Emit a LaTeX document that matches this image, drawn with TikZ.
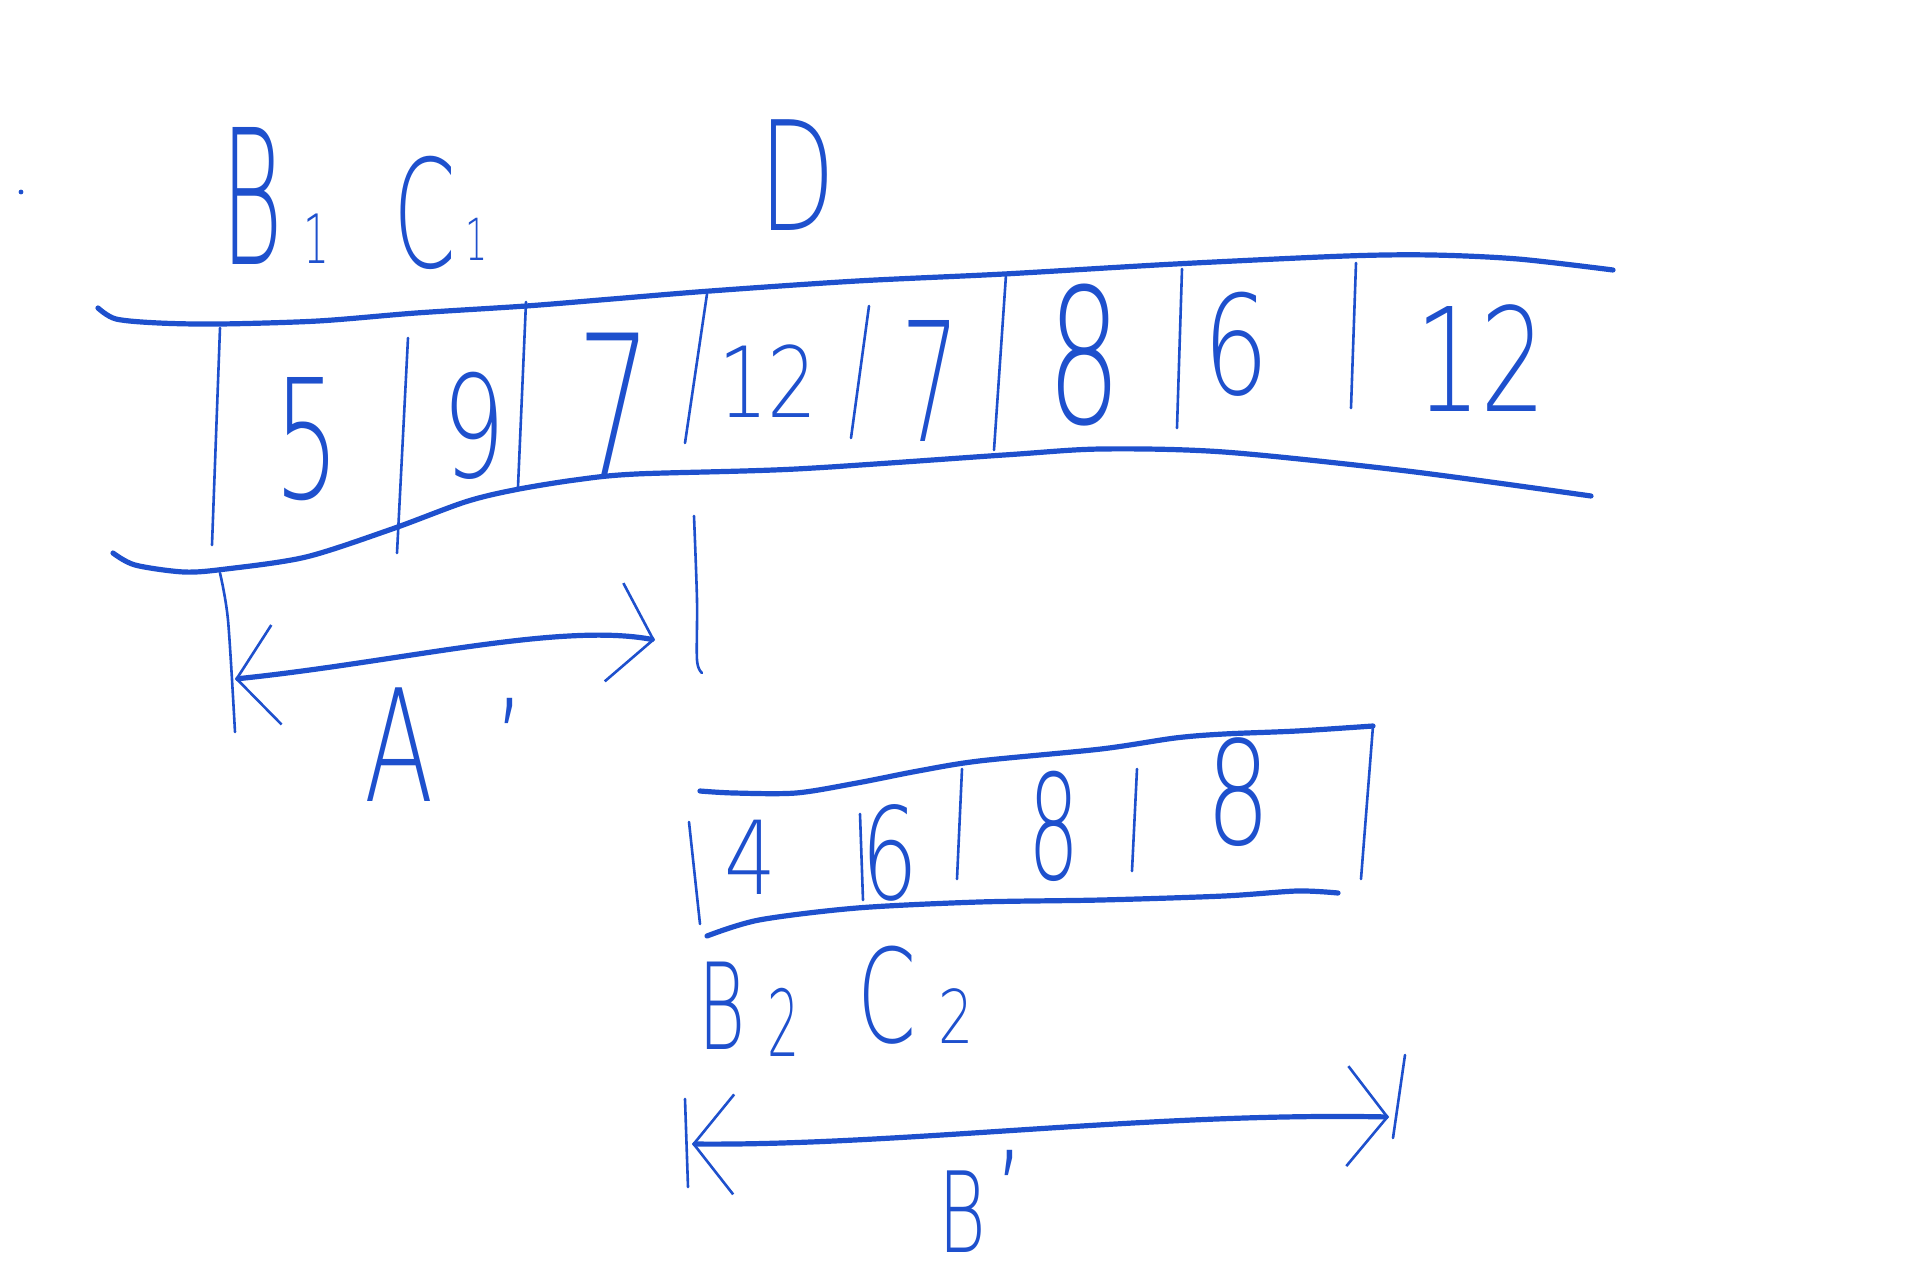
\documentclass[tikz,border=0pt]{standalone}
\usepackage{fontspec}
\IfFontExistsTF{DejaVu Sans ExtraLight}{\setmainfont{DejaVu Sans ExtraLight}}{\setmainfont{DejaVu Sans}}
\usetikzlibrary{arrows.meta}
\definecolor{ink}{RGB}{30,80,205}
\newcommand{\nar}[2]{\scalebox{#1}[1]{#2}}
\tikzset{
  rim/.style={draw=ink, line width=2.6pt, line cap=round, line join=round},
  wall/.style={draw=ink, line width=1.3pt, line cap=round, line join=round},
  glyph/.style={text=ink, inner sep=0pt, font=\fontsize{#1}{#1}\selectfont},
  span/.style={draw=ink, line width=2.6pt, line cap=round,
    {Straight Barb[length=20pt,width=50pt,line width=1.3pt]}-{Straight Barb[length=20pt,width=50pt,line width=1.3pt]}}
}
\begin{document}
\begin{tikzpicture}[x=0.5pt,y=-0.5pt]
\fill[white] (0,0) rectangle (1919,1280);
\useasboundingbox (0,0) rectangle (1919,1280);

% stray dot
\fill[ink] (21,192) circle (1.2pt);

% ---------- top array ----------
\draw[rim] plot[smooth] coordinates {(98,308) (116,319) (159,323) (220,324) (318,321) (416,313) (526,306) (612,299) (710,291) (857,281) (1004,274) (1175,264) (1346,256) (1432,255) (1518,259) (1613,270)};
\draw[rim] plot[smooth] coordinates {(113,553) (135,565) (184,572) (226,569) (306,557) (392,529) (465,502) (514,490) (575,480) (636,474) (796,469) (1004,455) (1101,449) (1224,452) (1407,471) (1591,496)};
\draw[wall] (220,328) -- (212,545);
\draw[wall] (408,338) -- (397,553);
\draw[wall] (526,302) -- (518,487);
\draw[wall] (707,294) -- (685,443);
\draw[wall] (869,306) -- (851,438);
\draw[wall] (1006,275) -- (994,450);
\draw[wall] (1182,269) -- (1177,428);
\draw[wall] (1356,263) -- (1351,408);

\node[glyph=83] (t5) at (307,439) {\nar{0.62}{5}};
\node[glyph=71] (t9) at (474,426) {\nar{0.7}{9}};
\node[glyph=97] (t7a) at (615,404) {\nar{0.6}{7}};
\node[glyph=49] (t12a) at (768,381) {\nar{0.8}{12}};
\node[glyph=83] (t7b) at (931,381) {\nar{0.55}{7}};
\node[glyph=94] (t8) at (1085,355) {\nar{0.62}{8}};
\node[glyph=69] (t6) at (1236,344) {\nar{0.75}{6}};
\node[glyph=72] (t12b) at (1481,358) {\nar{0.72}{12}};

% labels above
\node[glyph=94] (lB1) at (252,196) {\nar{0.5}{B}};
\node[glyph=34] (lB1s) at (316,239) {\nar{0.6}{1}};
\node[glyph=75] (lC1) at (425,213) {\nar{0.6}{C}};
\node[glyph=29] (lC1s) at (477,239) {\nar{0.6}{1}};
\node[glyph=76] (lD) at (798,175) {\nar{0.65}{D}};

% ---------- span A' ----------
\draw[wall] plot[smooth] coordinates {(220,573) (228,620) (235,732)};
\draw[wall] plot[smooth] coordinates {(694,516) (697,600) (697,660) (702,673)};
\coordinate (aL) at (235,679);
\coordinate (aR) at (655,640);
\draw[span] (aL) .. controls (400,662) and (560,622) .. (aR);
\node[glyph=78] (lA) at (399,745) {\nar{0.65}{A}};
\node[glyph=55] (lAp) at (510,738) {'};

% ---------- bottom array ----------
\draw[rim] plot[smooth] coordinates {(700,791) (734,793) (796,793) (857,783) (918,771) (979,761) (1101,749) (1175,738) (1224,734) (1297,731) (1373,726)};
\draw[wall] (1373,726) -- (1361,879);
\draw[rim] plot[smooth] coordinates {(707,936) (759,920) (857,908) (979,902) (1101,900) (1224,896) (1297,891) (1338,893)};
\draw[wall] (689,822) -- (700,924);
\draw[wall] (860,814) -- (863,900);
\draw[wall] (962,769) -- (957,879);
\draw[wall] (1137,769) -- (1132,871);

\node[glyph=51] (b4) at (750,857) {\nar{0.8}{4}};
\node[glyph=64] (b6) at (890,853) {\nar{0.7}{6}};
\node[glyph=73] (b8a) at (1054,826) {\nar{0.55}{8}};
\node[glyph=72] (b8b) at (1239,792) {\nar{0.7}{8}};

% labels below
\node[glyph=60] (lB2) at (722,1006) {\nar{0.6}{B}};
\node[glyph=46] (lB2s) at (784,1022) {\nar{0.55}{2}};
\node[glyph=65] (lC2) at (887,995) {\nar{0.65}{C}};
\node[glyph=37] (lC2s) at (956,1016) {\nar{0.75}{2}};

% ---------- span B' ----------
\draw[wall] (685,1099) -- (688,1187);
\draw[wall] (1405,1055) -- (1393,1138);
\coordinate (bL) at (692,1144);
\coordinate (bR) at (1389,1117);
\draw[span] (bL) .. controls (900,1146) and (1150,1112) .. (bR);
\node[glyph=56] (lB) at (962,1212) {\nar{0.65}{B}};
\node[glyph=55] (lBp) at (1010,1190) {'};
\end{tikzpicture}
\end{document}
